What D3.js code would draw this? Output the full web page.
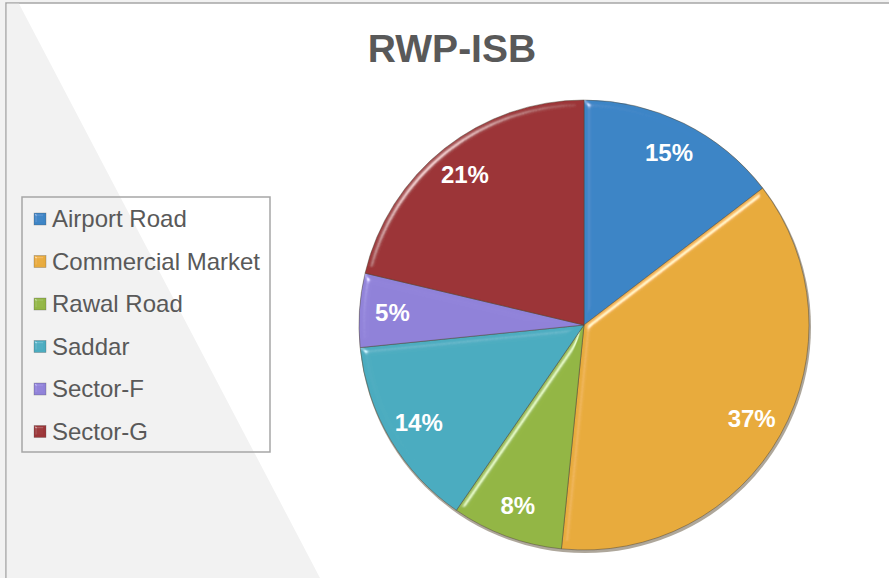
<!DOCTYPE html>
<html>
<head>
<meta charset="utf-8">
<script src="https://cdn.jsdelivr.net/npm/d3@7"></script>
<style>
  html, body { margin: 0; padding: 0; background: #f2f2f2; }
  svg { display: block; font-family: "Liberation Sans", Arial, sans-serif; }
</style>
</head>
<body>
<div id="chart"></div>
<script>
"use strict";

// Data (share of each area, in %)
const chartTitle = "RWP-ISB";
const categories = ["Airport Road", "Commercial Market", "Rawal Road", "Saddar", "Sector-F", "Sector-G"];
const values = [14.6, 37.0, 8.0, 13.8, 5.3, 21.3];
const colors = ["#3d85c6", "#e8ab3c", "#93b644", "#4cacc0", "#9082d9", "#9c3437"];

const width = 889, height = 578;

let svg = d3.select("#chart")
  .append("svg")
  .attr("width", width)
  .attr("height", height);

// bevel filters (soft light coming from the top left)
let defs = svg.append("defs");
function addBevel(id, blur, scale, expo){
  let f = defs.append("filter")
    .attr("id", id)
    .attr("x", "-5%").attr("y", "-5%")
    .attr("width", "110%").attr("height", "110%");
  f.append("feGaussianBlur")
    .attr("in", "SourceAlpha")
    .attr("stdDeviation", blur)
    .attr("result", "blur");
  f.append("feSpecularLighting")
    .attr("in", "blur")
    .attr("surfaceScale", scale)
    .attr("specularConstant", 0.9)
    .attr("specularExponent", expo)
    .attr("lighting-color", "#ffffff")
    .attr("result", "spec")
    .append("feDistantLight")
    .attr("azimuth", 225)
    .attr("elevation", 40);
  f.append("feComposite")
    .attr("in", "spec").attr("in2", "SourceAlpha")
    .attr("operator", "in").attr("result", "specIn");
  f.append("feComposite")
    .attr("in", "SourceGraphic").attr("in2", "specIn")
    .attr("operator", "arithmetic")
    .attr("k1", 0).attr("k2", 1).attr("k3", 0.6).attr("k4", 0);
}
addBevel("bevel", 3.5, 4, 64);
addBevel("bevelSmall", 1.2, 2, 40);

// Chart area: white panel with border and grey diagonal band on the left
svg.append("rect")
  .attr("x", 6).attr("y", 3)
  .attr("width", width + 10).attr("height", height + 10)
  .attr("fill", "#ffffff")
  .attr("stroke", "#a6a6a6")
  .attr("stroke-width", 1.5);

svg.append("polygon")
  .attr("points", [[6.8, 3.8], [19, 3.8], [320, height], [6.8, height]].map(p => p.join(",")).join(" "))
  .attr("fill", "#f2f2f2");

// Title
svg.append("text")
  .attr("x", 452)
  .attr("y", 62)
  .attr("text-anchor", "middle")
  .attr("font-size", 39)
  .attr("font-weight", "bold")
  .attr("fill", "#595959")
  .text(chartTitle);

// Pie
let cx = 584, cy = 325, radius = 225;

let pie = d3.pie().sort(null).value(d => d);
let arcs = pie(values);

let arc = d3.arc().innerRadius(0).outerRadius(radius);
let labelArc = d3.arc().innerRadius(192).outerRadius(192);

let pieG = svg.append("g")
  .attr("transform", `translate(${cx},${cy})`);

// soft shadow under the pie
pieG.append("circle")
  .attr("cx", 1).attr("cy", 2)
  .attr("r", radius + 1)
  .attr("fill", "#5e4f38")
  .attr("opacity", 0.5);

pieG.selectAll(".slice")
  .data(arcs)
  .enter()
  .append("path")
  .attr("class", "slice")
  .attr("d", arc)
  .attr("fill", (d, i) => colors[i])
  .attr("stroke", "#4d4536")
  .attr("stroke-opacity", 0.6)
  .attr("stroke-width", 0.8)
  .attr("filter", "url(#bevel)");

// Percentage labels
pieG.selectAll(".pctLabel")
  .data(arcs)
  .enter()
  .append("text")
  .attr("class", "pctLabel")
  .attr("transform", d => `translate(${labelArc.centroid(d)})`)
  .attr("text-anchor", "middle")
  .attr("dy", "0.36em")
  .attr("font-size", 24)
  .attr("font-weight", "bold")
  .attr("fill", "#ffffff")
  .text(d => Math.round(d.value) + "%");

// Legend
let legend = svg.append("g")
  .attr("transform", "translate(22,197)");

legend.append("rect")
  .attr("width", 248)
  .attr("height", 255)
  .attr("fill", "none")
  .attr("stroke", "#a6a6a6")
  .attr("stroke-width", 1.5);

let legendItem = legend.selectAll(".legendItem")
  .data(categories)
  .enter()
  .append("g")
  .attr("class", "legendItem")
  .attr("transform", (d, i) => `translate(0,${22 + i * 42.5})`);

legendItem.append("rect")
  .attr("x", 12).attr("y", -6)
  .attr("width", 12).attr("height", 12)
  .attr("fill", (d, i) => colors[i])
  .attr("stroke", "#555")
  .attr("stroke-opacity", 0.5)
  .attr("stroke-width", 0.6)
  .attr("filter", "url(#bevelSmall)");

legendItem.append("text")
  .attr("x", 30)
  .attr("dy", "0.35em")
  .attr("font-size", 24)
  .attr("fill", "#595959")
  .text(d => d);
</script>
</body>
</html>
